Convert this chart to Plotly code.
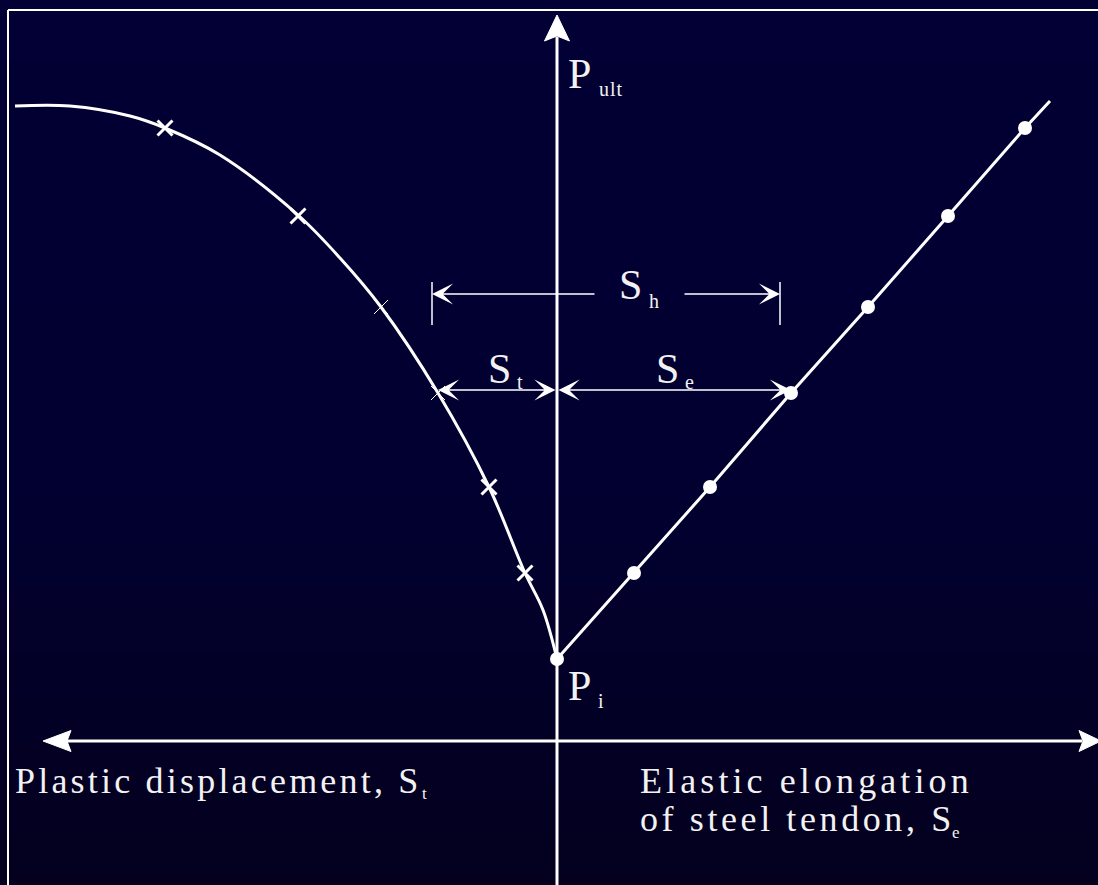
import numpy as np
import plotly.graph_objects as go

# ---- data (diagram units: x = displacement, y = load; origin at axis crossing)
P_INITIAL = 82
load_levels = [168, 254, 348, 434, 525, 613]
elastic_elongation = [77, 153, 234, 311, 391, 468]
plastic_displacement = [-32, -68, -119, -176, -259, -392]
bold_cross = [True, True, False, False, True, True]

# plastic curve from P_i outwards (includes the marked points)
curve_x = [0, -14, -32, -68, -119, -176, -217, -259, -337, -392, -427, -487, -542]
curve_y = [82, 131, 168, 254, 348, 434, 483, 526, 586, 613, 625, 635, 635]

# elastic line continues past the last measured point
elastic_end_x, elastic_end_y = 493, 640

# dimension lines
sh_left, sh_right, sh_y = -125, 223, 447
st_left, se_right, dim_y = -119, 234, 351

X_MIN, X_MAX = -557, 541
Y_MIN, Y_MAX = -144, 741

WHITE = "#ffffff"
TEXT = "#f2f2f2"
FONT = "'Liberation Serif', 'Times New Roman', Times, serif"

fig = go.Figure()

# background gradient
gy = np.linspace(Y_MIN, Y_MAX, 60)
fig.add_trace(go.Heatmap(
    x=[X_MIN - 5, X_MAX + 5], y=gy, z=np.column_stack([gy, gy]),
    colorscale=[[0, "rgb(4,0,30)"], [0.45, "rgb(2,0,48)"], [1, "rgb(2,0,52)"]],
    showscale=False, zsmooth="best", hoverinfo="skip",
))

# plastic displacement curve
fig.add_trace(go.Scatter(
    x=curve_x, y=curve_y, mode="lines",
    line=dict(color=WHITE, width=3, shape="spline", smoothing=1.0),
    hoverinfo="skip", showlegend=False,
))
# cross marks on the plastic curve
for bold in (True, False):
    xs = [x for x, b in zip(plastic_displacement, bold_cross) if b == bold]
    ys = [y for y, b in zip(load_levels, bold_cross) if b == bold]
    fig.add_trace(go.Scatter(
        x=xs, y=ys, mode="markers",
        marker=dict(symbol="x-thin", size=15 if bold else 14,
                    line=dict(color=WHITE, width=3 if bold else 1)),
        hoverinfo="skip", showlegend=False,
    ))

# elastic elongation line with dots
fig.add_trace(go.Scatter(
    x=[0] + elastic_elongation + [elastic_end_x],
    y=[P_INITIAL] + load_levels + [elastic_end_y],
    mode="lines", line=dict(color=WHITE, width=3),
    hoverinfo="skip", showlegend=False,
))
fig.add_trace(go.Scatter(
    x=[0] + elastic_elongation, y=[P_INITIAL] + load_levels,
    mode="markers", marker=dict(color=WHITE, size=14),
    hoverinfo="skip", showlegend=False,
))

shapes = []
# axes
shapes.append(dict(type="line", x0=0, x1=0, y0=Y_MIN, y1=704,
                   line=dict(color=WHITE, width=3)))
shapes.append(dict(type="line", x0=-490, x1=525, y0=0, y1=0,
                   line=dict(color=WHITE, width=3)))
# axis arrowheads
shapes.append(dict(type="path", path="M 0 726 L 12.5 700 L 0 705 L -12.5 700 Z",
                   fillcolor=WHITE, line=dict(color=WHITE, width=1)))
shapes.append(dict(type="path", path="M -514 0 L -486 10.5 L -490 0 L -486 -10.5 Z",
                   fillcolor=WHITE, line=dict(color=WHITE, width=1)))
shapes.append(dict(type="path", path="M 544 0 L 522 10.5 L 526 0 L 522 -10.5 Z",
                   fillcolor=WHITE, line=dict(color=WHITE, width=1)))
# S_h extension ticks
for xv in (sh_left, sh_right):
    shapes.append(dict(type="line", x0=xv, x1=xv, y0=sh_y - 31, y1=sh_y + 12,
                       line=dict(color=WHITE, width=1.5)))
# frame
shapes.append(dict(type="line", xref="paper", yref="paper",
                   x0=8 / 1098, x1=1, y0=1 - 10 / 885, y1=1 - 10 / 885,
                   line=dict(color=WHITE, width=2)))
shapes.append(dict(type="line", xref="paper", yref="paper",
                   x0=8 / 1098, x1=8 / 1098, y0=0, y1=1 - 10 / 885,
                   line=dict(color=WHITE, width=2)))

annotations = []


def dim_arrow(x_tip, y_tip, x_tail, y_tail, both=False):
    annotations.append(dict(
        x=x_tip, y=y_tip, ax=x_tail, ay=y_tail, xref="x", yref="y",
        axref="x", ayref="y", text="", showarrow=True, arrowhead=3,
        arrowsize=2.2, arrowwidth=1.6, arrowcolor=WHITE,
        arrowside="end+start" if both else "end", standoff=0, startstandoff=0,
    ))


dim_arrow(sh_left, sh_y, 39, sh_y)
dim_arrow(sh_right, sh_y, 126, sh_y)
dim_arrow(st_left, dim_y, 0, dim_y, both=True)
dim_arrow(se_right, dim_y, 0, dim_y, both=True)


def label(x, y, text, size, spacing=0, tail=""):
    # letter-spaced body; the trailing symbol is kept unspaced so the box ends at it
    if spacing:
        text = f'<span style="letter-spacing:{spacing}px">{text}</span>{tail}'
    else:
        text = text + tail
    annotations.append(dict(
        x=x, y=y, xref="x", yref="y", text=text, showarrow=False,
        xanchor="left", yanchor="top", borderpad=0,
        font=dict(family=FONT, size=size, color=TEXT),
    ))


label(10, 691, "P", 42)
label(41, 664, "ult", 20, 1)
label(61, 480, "S", 42)
label(91, 452, "h", 20)
label(-70, 396, "S", 42)
label(-41, 371, "t", 20)
label(98, 396, "S", 42)
label(127, 371, "e", 20)
label(10, 79, "P", 42)
label(40, 52, "i", 20)
label(-543, -19, "Plastic displacement, ", 36, 3.2, "S")
label(-136, -42, "t", 17)
label(82, -19, "Elastic elongation", 36, 4.1)
label(82, -57, "of steel tendon, ", 36, 3.6, "S")
label(394, -81, "e", 17)

fig.update_layout(
    width=1098, height=885,
    margin=dict(l=0, r=0, t=0, b=0),
    paper_bgcolor="rgb(2,0,45)", plot_bgcolor="rgb(2,0,45)",
    xaxis=dict(range=[X_MIN, X_MAX], visible=False, fixedrange=True),
    yaxis=dict(range=[Y_MIN, Y_MAX], visible=False, fixedrange=True),
    shapes=shapes, annotations=annotations, showlegend=False,
)

fig.write_html("out.html")
